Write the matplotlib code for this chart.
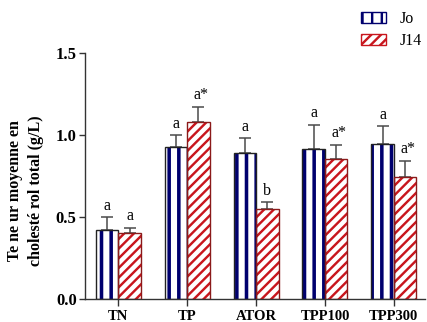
import matplotlib
matplotlib.use("Agg")
import matplotlib.pyplot as plt
import numpy as np

# Mean total cholesterol (g/L) per group, day 0 vs day 14
groups = ["TN", "TP", "ATOR", "TPP100", "TPP300"]
j0_mean = [0.42, 0.93, 0.89, 0.915, 0.945]
j0_err = [0.08, 0.07, 0.09, 0.15, 0.11]
j14_mean = [0.405, 1.083, 0.55, 0.853, 0.744]
j14_err = [0.03, 0.09, 0.04, 0.09, 0.10]
j0_marks = ["a", "a", "a", "a", "a"]
j14_marks = ["a", "a*", "b", "a*", "a*"]
series_names = ["Jo", "J14"]

DPI = 116
k = 100 / DPI  # keeps pixel sizes of text and lines steady at this dpi

plt.rcParams["font.family"] = ["Liberation Serif", "DejaVu Serif"]
plt.rcParams["hatch.linewidth"] = 2.2

fig = plt.figure(figsize=(427 / DPI, 322 / DPI), dpi=DPI)
ax = fig.add_axes([0.199, 0.0705, 0.796, 0.7645])

x = np.arange(len(groups))
w = 0.327
navy = "#00006e"
red = "#c8161d"
err_col = "#4a4a4a"

b0 = ax.bar(x - w / 2, j0_mean, w, color="white", edgecolor=navy,
            hatch="||", linewidth=0, zorder=2)
ax.bar(x - w / 2, j0_mean, w, fill=False, edgecolor="#222222",
       linewidth=1.0 * k, zorder=3)
plt.rcParams["hatch.linewidth"] = 1.5
b1 = ax.bar(x + w / 2, j14_mean, w, color="white", edgecolor=red,
            hatch="////", linewidth=0, zorder=2)
ax.bar(x + w / 2, j14_mean, w, fill=False, edgecolor="#8b1a1a",
       linewidth=1.0 * k, zorder=3)

zeros = np.zeros(len(groups))
for xs, m, e in [(x - w / 2, j0_mean, j0_err), (x + w / 2, j14_mean, j14_err)]:
    ax.errorbar(xs, m, yerr=[zeros, e], fmt="none", ecolor=err_col,
                elinewidth=1.1 * k, capsize=4.3 * k, capthick=1.1 * k, zorder=1)

for xi, m, e, t in zip(x - w / 2, j0_mean, j0_err, j0_marks):
    ax.annotate(t, (xi, m + e), xytext=(0, 2.5 * k), textcoords="offset points",
                ha="center", va="bottom", fontsize=11.5 * k)
for xi, m, e, t in zip(x + w / 2, j14_mean, j14_err, j14_marks):
    ax.annotate(t, (xi, m + e), xytext=((2 if "*" in t else 0) * k, 2.5 * k),
                textcoords="offset points", ha="center", va="bottom",
                fontsize=11.5 * k)

ax.set_xlim(-0.483, 4.45)
ax.set_ylim(0, 1.5)
ax.set_yticks([0.0, 0.5, 1.0, 1.5])
ax.set_yticklabels(["0.0", "0.5", "1.0", "1.5"], fontweight="bold", fontsize=12 * k)
ax.set_xticks(x)
ax.set_xticklabels(groups, fontweight="bold", fontsize=10.5 * k)
for s in ["top", "right"]:
    ax.spines[s].set_visible(False)
for s in ["left", "bottom"]:
    ax.spines[s].set_color("#333333")
    ax.spines[s].set_linewidth(1.0 * k)
ax.tick_params(axis="y", length=4 * k, width=1 * k, color="#333333", pad=2 * k)
ax.tick_params(axis="x", length=5 * k, width=1 * k, color="#333333", pad=3 * k)

ax.set_ylabel("Te ne ur moyenne en\ncholesté rol total (g/L)", fontsize=11.5 * k,
              fontweight="bold", linespacing=1.4)
ax.yaxis.set_label_coords(-0.12, 0.44)

leg = fig.legend([b0, b1], series_names, loc="upper left",
                 bbox_to_anchor=(0.83, 0.985), frameon=False, fontsize=11.5 * k,
                 handlelength=1.6, handleheight=0.65, labelspacing=0.35,
                 handletextpad=0.8, borderaxespad=0)
for h in leg.legend_handles:
    h.set_linewidth(1.0 * k)

fig.savefig("out.png", dpi=DPI)
